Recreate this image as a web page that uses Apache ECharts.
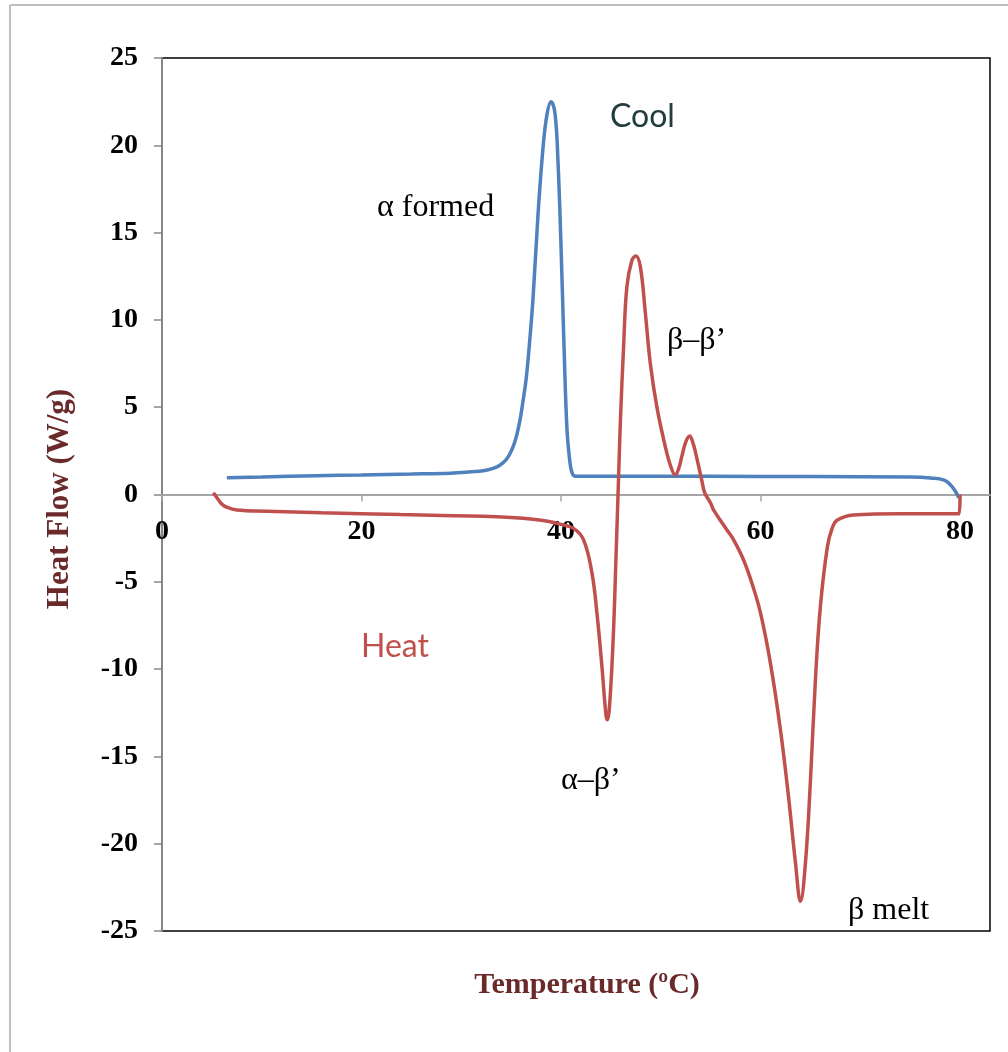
<!DOCTYPE html>
<html>
<head>
<meta charset="utf-8">
<script src="https://cdn.jsdelivr.net/npm/echarts@6/dist/echarts.min.js"></script>
<style>
  html, body { margin: 0; padding: 0; background: #fff; }
  #chart { width: 1008px; height: 1052px; }
</style>
</head>
<body>
<div id="chart"></div>
<script>
// ---- Data (Temperature °C, Heat Flow W/g) ----
const coolSeries = [
  [6.5,0.96],[10,1.0],[15.5,1.08],[20,1.12],[25,1.17],[28.9,1.22],[31,1.3],[32.2,1.36],
  [33.2,1.5],[33.9,1.69],[34.5,2.0],[34.9,2.36],[35.3,2.9],[35.6,3.5],[35.9,4.3],[36.2,5.4],
  [36.5,6.6],[36.8,8.4],[37.2,11.3],[37.7,16.1],[38.2,19.9],[38.6,21.8],[39.0,22.5],[39.4,21.8],
  [39.7,19.0],[40.0,14.2],[40.3,8.47],[40.6,3.7],[40.9,1.8],[41.1,1.25],[41.4,1.05],
  [45,1.04],[55,1.04],[65,1.03],[75,1.0],[77,0.95],[78.4,0.83],[79.2,0.45],[79.9,-0.2]
];
const heatSeries = [
  [5.15,0.1],[5.4,-0.1],[5.65,-0.3],[6.0,-0.55],[6.5,-0.73],[7.5,-0.89],[10.5,-0.96],
  [16,-1.05],[23.9,-1.15],[32.2,-1.25],[35,-1.32],[37.2,-1.42],[38.8,-1.55],[39.9,-1.7],
  [41.25,-1.94],[42.26,-2.6],[43.1,-4.5],[43.6,-6.8],[44.1,-9.86],[44.5,-12.6],[44.65,-12.9],
  [44.9,-11.8],[45.25,-7.95],[45.5,-3.75],[45.77,1.0],[45.95,4.2],[46.27,8.47],[46.6,11.9],
  [47.1,13.4],[47.5,13.66],[47.95,13.05],[48.45,10.4],[48.95,7.5],[49.6,5.03],[50.45,2.74],
  [51.0,1.6],[51.45,1.12],[51.8,1.5],[52.1,2.17],[52.5,3.0],[52.9,3.35],[53.2,3.0],[53.5,2.36],
  [54.1,0.83],[54.4,0.1],[55.0,-0.5],[55.3,-0.9],[56.6,-2.0],[57.3,-2.6],[58.3,-3.75],
  [59.2,-5.2],[60.0,-6.8],[61.0,-9.7],[62.0,-13.5],[62.8,-17.3],[63.5,-21.1],[64.0,-23.3],
  [64.5,-21.1],[65.0,-16.4],[65.5,-10.6],[66.0,-6.4],[66.7,-3.0],[67.2,-1.9],[67.7,-1.46],
  [69.3,-1.17],[74,-1.1],[79.9,-1.1],[80.0,0.0]
];
const xTicks = { min: 0, max: 83, interval: 20 };
const yTicks = { min: -25, max: 25, interval: 5 };
const xTitle = 'Temperature (ºC)';
const yTitle = 'Heat Flow (W/g)';
const notes = [
  { text: 'α formed', x: 377, y: 208, font: 'Liberation Serif', color: '#000' },
  { text: 'Cool',     x: 610, y: 117, font: 'Lato', color: '#233D3F' },
  { text: 'β–β’',     x: 667, y: 341, font: 'Liberation Serif', color: '#000' },
  { text: 'Heat',     x: 361, y: 647, font: 'Lato', color: '#C0504D' },
  { text: 'α–β’',     x: 561, y: 781, font: 'Liberation Serif', color: '#000' },
  { text: 'β melt',   x: 848, y: 911, font: 'Liberation Serif', color: '#000' }
];

const GRID = { left: 162, top: 58, right: 18, bottom: 121 };
const chartH = 1052;
const plotH = chartH - GRID.top - GRID.bottom;
// distance from bottom edge of the plot to the y = 0 line
const zeroOffset = plotH * (0 - yTicks.min) / (yTicks.max - yTicks.min);

const chart = echarts.init(document.getElementById('chart'), null, { renderer: 'canvas' });
const labelFont = { fontFamily: 'Liberation Serif', fontWeight: 'bold', fontSize: 28, color: '#000' };
const graphics = [
  { type: 'line', shape: { x1: 10, y1: 5, x2: 1008, y2: 5 }, style: { stroke: '#BFBFBF', lineWidth: 2 } },
  { type: 'line', shape: { x1: 10, y1: 5, x2: 10, y2: 1052 }, style: { stroke: '#BFBFBF', lineWidth: 2 } },
  { type: 'text', x: 587, y: 985, style: { text: xTitle, fontFamily: 'Liberation Serif', fontWeight: 'bold', fontSize: 30, fill: '#6B2A2A', align: 'center', verticalAlign: 'middle' } },
  { type: 'text', x: 60, y: 499, rotation: Math.PI / 2, style: { text: yTitle, fontFamily: 'Liberation Serif', fontWeight: 'bold', fontSize: 31, fill: '#6B2A2A', align: 'center', verticalAlign: 'middle' } }
];
notes.forEach(n => graphics.push({
  type: 'text', x: n.x, y: n.y,
  style: { text: n.text, fontFamily: n.font, fontSize: n.font === 'Lato' ? 32 : 32, fill: n.color, align: 'left', verticalAlign: 'middle' }
}));

chart.setOption({
  animation: false,
  backgroundColor: '#fff',
  grid: Object.assign({ show: true, borderColor: '#000', borderWidth: 1.5, backgroundColor: 'transparent' }, GRID),
  xAxis: {
    type: 'value', min: xTicks.min, max: xTicks.max, interval: xTicks.interval,
    position: 'bottom', offset: -zeroOffset,
    axisLine: { onZero: false, lineStyle: { color: '#A6A6A6', width: 2 } },
    axisTick: { show: true, inside: false, length: 7, lineStyle: { color: '#A6A6A6', width: 1.5 } },
    axisLabel: Object.assign({ margin: 23, showMaxLabel: false }, labelFont),
    splitLine: { show: false }
  },
  yAxis: {
    type: 'value', min: yTicks.min, max: yTicks.max, interval: yTicks.interval,
    axisLine: { show: true, onZero: false, lineStyle: { color: '#868686', width: 2 } },
    axisTick: { show: true, inside: false, length: 8, lineStyle: { color: '#868686', width: 1.5 } },
    axisLabel: Object.assign({ margin: 24 }, labelFont),
    splitLine: { show: false }
  },
  series: [
    { name: 'Cool', type: 'line', data: coolSeries, showSymbol: false, smooth: 0.4,
      lineStyle: { color: '#4F81BD', width: 3.5 }, z: 3 },
    { name: 'Heat', type: 'line', data: heatSeries, showSymbol: false, smooth: 0.4,
      lineStyle: { color: '#C0504D', width: 3.5 }, z: 4 }
  ],
  graphic: graphics
});
</script>
</body>
</html>
